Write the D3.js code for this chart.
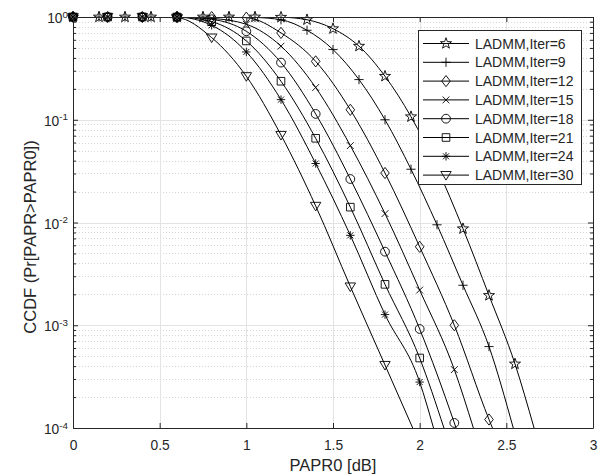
<!DOCTYPE html>
<html>
<head>
<meta charset="utf-8">
<script src="https://cdn.jsdelivr.net/npm/d3@7"></script>
<style>
  body { margin: 0; background: #fff; }
  svg { display: block; }
  text { font-family: "Liberation Sans", Arial, Helvetica, sans-serif; fill: #262626; }
</style>
</head>
<body>
<svg id="chart" width="599" height="474"></svg>
<script>
// Axis ticks
const xTicks = [0, 0.5, 1, 1.5, 2, 2.5, 3];
const yTickExps = [0, -1, -2, -3, -4];

// Series labels and marker styles
const seriesLabels = ["LADMM,Iter=6", "LADMM,Iter=9", "LADMM,Iter=12", "LADMM,Iter=15",
                      "LADMM,Iter=18", "LADMM,Iter=21", "LADMM,Iter=24", "LADMM,Iter=30"];
const seriesMarkers = ["star", "plus", "diamond", "cross", "circle", "square", "asterisk", "triangle"];

// PAPR0 [dB] sample points and CCDF values for each iteration count
const x6  = [0, 0.15, 0.3, 0.45, 0.6, 0.75, 0.9, 1.05, 1.2, 1.35, 1.5, 1.65, 1.8, 1.95, 2.1, 2.25, 2.4, 2.55];
const p6  = [1, 1, 1, 1, 1, 1, 1, 1, 0.995, 0.94, 0.77, 0.52, 0.265, 0.107, 0.034, 0.0087, 0.00195, 0.00042];
const x9  = [0, 0.15, 0.3, 0.45, 0.6, 0.75, 0.9, 1.05, 1.2, 1.35, 1.5, 1.65, 1.8, 1.95, 2.1, 2.25, 2.4];
const p9  = [1, 1, 1, 1, 1, 1, 1, 0.99, 0.94, 0.743, 0.482, 0.246, 0.1, 0.033, 0.0095, 0.00245, 0.00062];
const x12 = [0, 0.2, 0.4, 0.6, 0.8, 1.0, 1.2, 1.4, 1.6, 1.8, 2.0, 2.2, 2.4];
const p12 = [1, 1, 1, 1, 0.998, 0.985, 0.70, 0.37, 0.125, 0.0303, 0.0058, 0.001, 0.000121];
const x15 = [0, 0.2, 0.4, 0.6, 0.8, 1.0, 1.2, 1.4, 1.6, 1.8, 2.0, 2.2];
const p15 = [1, 1, 1, 1, 0.97, 0.85, 0.52, 0.206, 0.056, 0.0122, 0.0022, 0.00037];
const x18 = [0, 0.2, 0.4, 0.6, 0.8, 1.0, 1.2, 1.4, 1.6, 1.8, 2.0, 2.2];
const p18 = [1, 1, 1, 1, 0.95, 0.726, 0.36, 0.114, 0.0265, 0.0052, 0.00092, 0.000112];
const x21 = [0, 0.2, 0.4, 0.6, 0.8, 1.0, 1.2, 1.4, 1.6, 1.8, 2.0];
const p21 = [1, 1, 1, 1, 0.9, 0.585, 0.237, 0.066, 0.0141, 0.0025, 0.00048];
const x24 = [0, 0.2, 0.4, 0.6, 0.8, 1.0, 1.2, 1.4, 1.6, 1.8, 2.0];
const p24 = [1, 1, 1, 0.998, 0.83, 0.457, 0.157, 0.0375, 0.0075, 0.00127, 0.00028];
const x30 = [0, 0.2, 0.4, 0.6, 0.8, 1.0, 1.2, 1.4, 1.6, 1.8];
const p30 = [1, 1, 1, 0.985, 0.63, 0.265, 0.071, 0.0145, 0.00238, 0.00041];
// PAPR0 where each curve reaches the 1e-4 floor of the axis
const floorX = [2.66, 2.54, 2.42, 2.31, 2.21, 2.14, 2.08, 1.96];

const seriesX = [x6, x9, x12, x15, x18, x21, x24, x30];
const seriesP = [p6, p9, p12, p15, p18, p21, p24, p30];

const W = 599, H = 474;
const plot = { left: 73, right: 593, top: 17, bottom: 428 };
const yMin = 1e-4, yMax = 1;

const x = d3.scaleLinear().domain([0, 3]).range([plot.left, plot.right]);
const y = d3.scaleLog().domain([yMin, yMax]).range([plot.bottom, plot.top]);

const svg = d3.select("#chart");
const axisColor = "#262626";
const tickFont = "13.8px";

// Grid
const minorVals = [];
for (let e = -4; e < 0; e++) for (let k = 2; k <= 9; k++) minorVals.push(k * Math.pow(10, e));
const majorVals = yTickExps.map(e => Math.pow(10, e));

const grid = svg.append("g");
grid.selectAll("line.minor").data(minorVals).join("line")
  .attr("x1", plot.left).attr("x2", plot.right)
  .attr("y1", d => Math.round(y(d)) + 0.5).attr("y2", d => Math.round(y(d)) + 0.5)
  .attr("stroke", "#d4d4d4").attr("stroke-width", 1).attr("stroke-dasharray", "1,2");
grid.selectAll("line.hmajor").data(majorVals).join("line")
  .attr("x1", plot.left).attr("x2", plot.right)
  .attr("y1", d => Math.round(y(d)) + 0.5).attr("y2", d => Math.round(y(d)) + 0.5)
  .attr("stroke", "#e3e3e3").attr("stroke-width", 1);
svg.append("g").selectAll("line").data(xTicks).join("line")
  .attr("y1", plot.top).attr("y2", plot.bottom)
  .attr("x1", d => Math.round(x(d)) + 0.5).attr("x2", d => Math.round(x(d)) + 0.5)
  .attr("stroke", "#e3e3e3").attr("stroke-width", 1);

// Curves
svg.append("clipPath").attr("id", "plotClip").append("rect")
  .attr("x", plot.left).attr("y", plot.top)
  .attr("width", plot.right - plot.left).attr("height", plot.bottom - plot.top);

const line = d3.line().x(d => x(d[0])).y(d => y(d[1])).curve(d3.curveMonotoneX);
const curves = svg.append("g").attr("clip-path", "url(#plotClip)");
seriesX.forEach((xs, i) => {
  const pts = xs.map((v, j) => [v, seriesP[i][j]]);
  pts.push([floorX[i], yMin]);
  curves.append("path").attr("d", line(pts))
    .attr("fill", "none").attr("stroke", "#000").attr("stroke-width", 1);
});

// Marker shapes
function markerPath(type) {
  const p = d3.path();
  switch (type) {
    case "star": {
      const R = 5.8, r = R * 0.4;
      for (let i = 0; i < 10; i++) {
        const a = -Math.PI / 2 + i * Math.PI / 5, rad = i % 2 ? r : R;
        const px = rad * Math.cos(a), py = rad * Math.sin(a);
        if (i === 0) p.moveTo(px, py); else p.lineTo(px, py);
      }
      p.closePath();
      break;
    }
    case "plus":
      p.moveTo(-4.6, 0); p.lineTo(4.6, 0); p.moveTo(0, -4.6); p.lineTo(0, 4.6);
      break;
    case "diamond":
      p.moveTo(0, -5.6); p.lineTo(4.3, 0); p.lineTo(0, 5.6); p.lineTo(-4.3, 0); p.closePath();
      break;
    case "cross":
      p.moveTo(-3.4, -3.4); p.lineTo(3.4, 3.4); p.moveTo(-3.4, 3.4); p.lineTo(3.4, -3.4);
      break;
    case "circle":
      p.arc(0, 0, 4.4, 0, 2 * Math.PI); p.closePath();
      break;
    case "square":
      p.rect(-3.8, -3.8, 7.6, 7.6);
      break;
    case "asterisk":
      p.moveTo(-4.2, 0); p.lineTo(4.2, 0); p.moveTo(0, -4.2); p.lineTo(0, 4.2);
      p.moveTo(-3, -3); p.lineTo(3, 3); p.moveTo(-3, 3); p.lineTo(3, -3);
      break;
    case "triangle":
      p.moveTo(-5.2, -3.6); p.lineTo(5.2, -3.6); p.lineTo(0, 5.0); p.closePath();
      break;
  }
  return p.toString();
}

const markers = svg.append("g");
seriesX.forEach((xs, i) => {
  const pts = xs.map((v, j) => [v, seriesP[i][j]]).filter(d => d[1] >= yMin && d[0] <= 3);
  markers.append("g").selectAll("path").data(pts).join("path")
    .attr("transform", d => `translate(${x(d[0])},${y(d[1])})`)
    .attr("d", markerPath(seriesMarkers[i]))
    .attr("fill", "none").attr("stroke", "#000").attr("stroke-width", 0.9);
});

// Axes (ticks point inward, box on all four sides)
function styleAxis(g) {
  g.selectAll("path.domain").attr("stroke", axisColor);
  g.selectAll(".tick line").attr("stroke", axisColor);
  g.selectAll("text").attr("fill", axisColor)
    .style("font-family", '"Liberation Sans", Arial, Helvetica, sans-serif')
    .style("font-size", tickFont);
}

const xAxis = svg.append("g").attr("transform", `translate(0,${plot.bottom})`)
  .call(d3.axisBottom(x).tickValues(xTicks).tickSize(-5).tickSizeOuter(0).tickPadding(12)
        .tickFormat(d3.format("")));
styleAxis(xAxis);
xAxis.selectAll("text").attr("y", 12.5).attr("dy", "0.71em");

const xTop = svg.append("g").attr("transform", `translate(0,${plot.top})`)
  .call(d3.axisTop(x).tickValues(xTicks).tickSize(-5).tickSizeOuter(0).tickFormat(""));
styleAxis(xTop);

const yAxis = svg.append("g").attr("transform", `translate(${plot.left},0)`)
  .call(d3.axisLeft(y).tickValues(majorVals).tickSize(-5).tickSizeOuter(0).tickPadding(5)
        .tickFormat(""));
styleAxis(yAxis);
yAxis.selectAll(".tick").each(function(d) {
  const t = d3.select(this).append("text")
    .attr("x", -5).attr("dy", "0.4em").attr("text-anchor", "end")
    .style("font-size", tickFont).attr("fill", axisColor);
  t.append("tspan").text("10");
  t.append("tspan").attr("dy", "-0.55em").style("font-size", "9.8px")
    .text(String(Math.round(Math.log10(d))));
});
svg.append("g").attr("transform", `translate(${plot.left},0)`)
  .call(d3.axisLeft(y).tickValues(minorVals).tickSize(-3).tickSizeOuter(0).tickFormat(""))
  .call(styleAxis).select("path.domain").remove();

const yRight = svg.append("g").attr("transform", `translate(${plot.right},0)`)
  .call(d3.axisRight(y).tickValues(majorVals).tickSize(-5).tickSizeOuter(0).tickFormat(""));
styleAxis(yRight);
svg.append("g").attr("transform", `translate(${plot.right},0)`)
  .call(d3.axisRight(y).tickValues(minorVals).tickSize(-3).tickSizeOuter(0).tickFormat(""))
  .call(styleAxis).select("path.domain").remove();

// Axis titles
svg.append("text").attr("x", (plot.left + plot.right) / 2).attr("y", 471)
  .attr("text-anchor", "middle").style("font-size", "16.5px").text("PAPR0 [dB]");
svg.append("text").attr("transform", `translate(30,237) rotate(-90)`)
  .attr("text-anchor", "middle").attr("dy", "0.35em").style("font-size", "16.5px")
  .text("CCDF (Pr[PAPR>PAPR0])");

// Legend
const lg = { left: 418, top: 30, width: 163, height: 154, rowH: 18.8, firstRow: 43.5 };
const legend = svg.append("g");
legend.append("rect").attr("x", lg.left + 0.5).attr("y", lg.top + 0.5)
  .attr("width", lg.width).attr("height", lg.height)
  .attr("fill", "#fff").attr("stroke", axisColor).attr("stroke-width", 1);
seriesLabels.forEach((label, i) => {
  const cy = lg.firstRow + i * lg.rowH;
  legend.append("line").attr("x1", lg.left + 5).attr("x2", lg.left + 51)
    .attr("y1", cy).attr("y2", cy).attr("stroke", "#000").attr("stroke-width", 1);
  legend.append("path").attr("transform", `translate(${lg.left + 28},${cy})`)
    .attr("d", markerPath(seriesMarkers[i]))
    .attr("fill", "none").attr("stroke", "#000").attr("stroke-width", 0.9);
  legend.append("text").attr("x", lg.left + 57).attr("y", cy).attr("dy", "0.36em")
    .style("font-size", "14px").attr("fill", "#000").text(label);
});
</script>
</body>
</html>
